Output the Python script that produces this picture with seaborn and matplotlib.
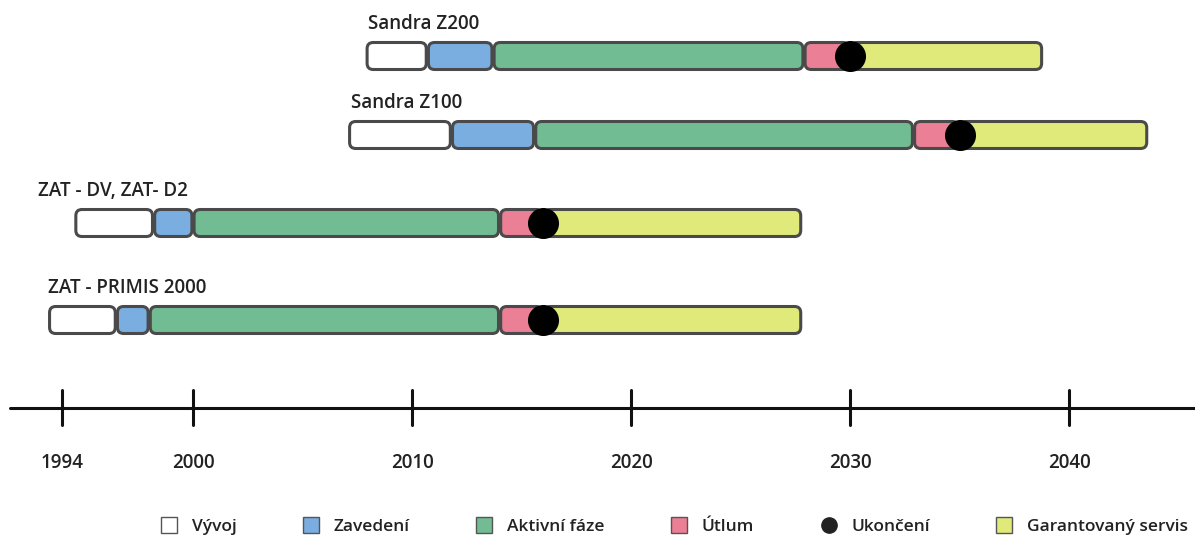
import matplotlib
matplotlib.use("Agg")
import matplotlib.pyplot as plt
import seaborn as sns
import numpy as np
import pandas as pd
from matplotlib.patches import FancyBboxPatch
from matplotlib.lines import Line2D

# ---- data ----
products = ["Sandra Z200", "Sandra Z100", "ZAT - DV, ZAT- D2", "ZAT - PRIMIS 2000"]
dev_start = [2007.9, 2007.1, 1994.6, 1993.4]      # Vývoj start
intro_start = [2010.7, 2011.8, 1998.2, 1996.5]    # Zavedení start
active_start = [2013.7, 2015.6, 2000.0, 1998.0]   # Aktivní fáze start
decline_start = [2027.9, 2032.9, 2014.0, 2014.0]  # Útlum start
end_year = [2030, 2035, 2016, 2016]               # Ukončení
service_end = [2038.8, 2043.6, 2027.8, 2027.8]    # Garantovaný servis end
tick_years = [1994, 2000, 2010, 2020, 2030, 2040]
phase_names = ["Vývoj", "Zavedení", "Aktivní fáze", "Útlum", "Ukončení", "Garantovaný servis"]

# ---- style ----
sns.set_theme(style="white")
plt.rcParams['font.family'] = ['Open Sans', 'DejaVu Sans']
colors = {"Vývoj": "#ffffff", "Zavedení": "#7aaee0", "Aktivní fáze": "#72bc94",
          "Útlum": "#ea7f95", "Garantovaný servis": "#dfea7a"}
edge = "#4a4a4a"
text_color = "#222222"

fig = plt.figure(figsize=(11.95, 5.40), dpi=100)
ax = fig.add_axes([0, 0, 1, 1])
px_per_year = 21.9
x0 = 2000 - 193 / px_per_year
ax.set_xlim(x0, x0 + 1195 / px_per_year)
ax.set_ylim(540, 0)
ax.axis("off")

row_y = [56, 135, 223, 320]
bar_h = 27
label_x = [2008.0, 2007.2, 1992.9, 1993.4]
label_dy = 27

df = pd.DataFrame({"product": products, "dev": dev_start, "intro": intro_start,
                   "active": active_start, "decline": decline_start,
                   "end": end_year, "service": service_end})

gap = 0.05
for i, r in df.iterrows():
    segs = [(r.dev, r.intro, "Vývoj"), (r.intro, r.active, "Zavedení"),
            (r.active, r.decline, "Aktivní fáze"), (r.decline, r.end, "Útlum"),
            (r.end, r.service, "Garantovaný servis")]
    yc = row_y[i]
    for s, e, name in segs:
        p = FancyBboxPatch((s + gap, yc - bar_h / 2), (e - s) - 2 * gap, bar_h,
                           boxstyle="round,pad=0,rounding_size=0.28",
                           mutation_aspect=px_per_year,
                           facecolor=colors[name], edgecolor=edge, linewidth=2.2, zorder=2)
        ax.add_patch(p)
    ax.text(label_x[i], yc - label_dy, r["product"], fontsize=13.5, fontweight="semibold",
            color=text_color, ha="left", va="baseline")

sns.scatterplot(x=df["end"], y=row_y, ax=ax, s=500, color="black", edgecolor="black",
                linewidth=0, zorder=5, legend=False)

# timeline axis
ax.plot([x0 + 10 / px_per_year, x0 + 1195 / px_per_year], [408, 408], color="#111111", lw=2.2, zorder=1)
for t in tick_years:
    ax.plot([t, t], [390, 425], color="#111111", lw=2.2, zorder=1)
    ax.text(t, 463, str(t), fontsize=13.5, fontweight="semibold", color=text_color,
            ha="center", va="center")

# legend
handles = []
for name in phase_names:
    if name == "Ukončení":
        handles.append(Line2D([], [], marker="o", linestyle="", markersize=11,
                              markerfacecolor="#222222", markeredgecolor="#222222"))
    else:
        handles.append(Line2D([], [], marker="s", linestyle="", markersize=12,
                              markerfacecolor=colors[name], markeredgecolor="#555555",
                              markeredgewidth=1.0))
leg = fig.legend(handles, phase_names, loc="center right", bbox_to_anchor=(1195 / 1195, 1 - 527 / 540),
                 ncol=6, frameon=False, columnspacing=3.7, handletextpad=0.7,
                 handlelength=1.2, borderaxespad=0.2, borderpad=0.2,
                 prop={"size": 12.5, "weight": "semibold"})
for t in leg.get_texts():
    t.set_color(text_color)

fig.savefig("out.png", dpi=100)
